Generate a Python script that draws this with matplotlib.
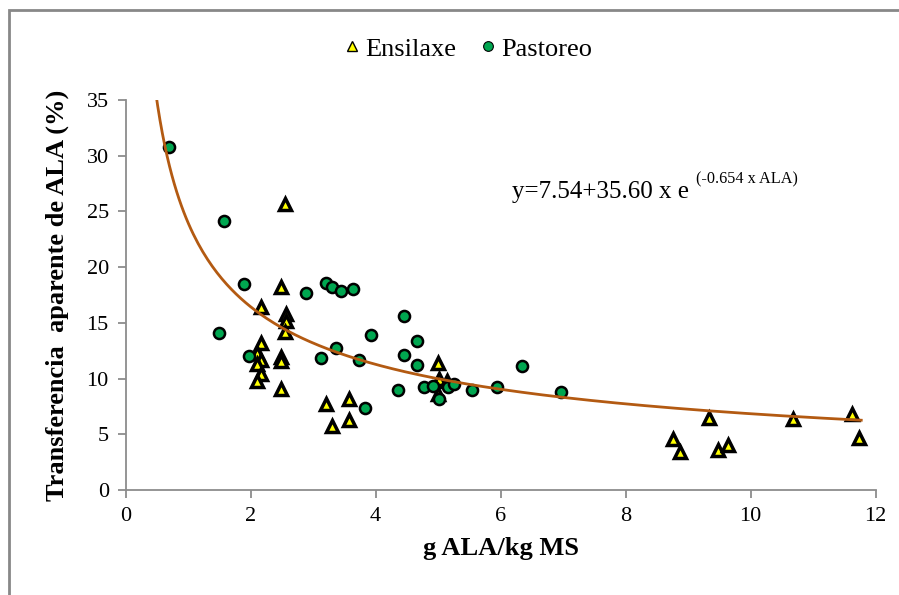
import numpy as np
import matplotlib
matplotlib.use("Agg")
import matplotlib.pyplot as plt
from matplotlib.lines import Line2D

plt.rcParams["font.family"] = ["Liberation Serif", "DejaVu Serif"]

# Ensilaxe (silage) points
ens_x = [2.55, 2.49, 2.17, 2.56, 2.56, 2.55, 2.17, 2.10, 2.17, 2.10, 2.17, 2.10,
         2.49, 2.49, 2.49, 3.21, 3.58, 3.31, 3.58, 5.00, 5.02, 5.15, 5.00,
         8.76, 8.87, 9.34, 9.48, 9.64, 10.68, 11.62, 11.74]
ens_y = [25.7, 18.2, 16.4, 15.8, 15.2, 14.2, 13.2, 12.3, 11.7, 11.3, 10.4, 9.8,
         11.9, 11.6, 9.1, 7.7, 8.2, 5.7, 6.3, 11.4, 10.0, 9.8, 8.6,
         4.6, 3.4, 6.5, 3.6, 4.0, 6.4, 6.8, 4.7]

# Pastoreo (grazing) points
pas_x = [0.69, 1.57, 1.89, 2.89, 3.21, 3.31, 3.45, 3.64, 1.50, 1.97, 3.12, 3.37,
         3.74, 3.93, 3.83, 4.36, 4.46, 4.46, 4.67, 4.67, 4.78, 4.92, 5.01, 5.16,
         5.25, 5.54, 5.95, 6.35, 6.97]
pas_y = [30.8, 24.1, 18.5, 17.7, 18.6, 18.2, 17.9, 18.0, 14.1, 12.0, 11.8, 12.7,
         11.7, 13.9, 7.4, 9.0, 15.6, 12.1, 13.4, 11.2, 9.2, 9.3, 8.2, 9.2,
         9.5, 9.0, 9.2, 11.1, 8.8]

# trend line as drawn (power fit)
fit_a = 24.0
fit_b = -0.545
fit_x = np.linspace(0.40, 11.77, 300)
fit_y = fit_a * fit_x ** fit_b

fig = plt.figure(figsize=(8.99, 5.95), dpi=100)
ax = fig.add_axes([0.1396, 0.1765, 0.8344, 0.6555])

ax.plot(ens_x, ens_y, linestyle="none", marker="^", markersize=9,
        markerfacecolor="#ffff00", markeredgecolor="black", markeredgewidth=2.5,
        zorder=3)
ax.plot(pas_x, pas_y, linestyle="none", marker="o", markersize=8,
        markerfacecolor="#00a650", markeredgecolor="black", markeredgewidth=1.8,
        zorder=4)
ax.plot(fit_x, fit_y, color="#b35a12", linewidth=2, zorder=5)

ax.set_xlim(0, 12)
ax.set_ylim(0, 35)
ax.set_xticks(range(0, 13, 2))
ax.set_yticks(range(0, 36, 5))

gray = "#8c8c8c"
for side in ["top", "right"]:
    ax.spines[side].set_visible(False)
for side in ["left", "bottom"]:
    ax.spines[side].set_color(gray)
    ax.spines[side].set_linewidth(1.3)
ax.tick_params(direction="out", length=6, width=1.3, color=gray,
               labelsize=16, labelcolor="black", pad=6)

ax.set_xlabel("g ALA/kg MS", fontsize=19, fontweight="bold", labelpad=8)
ax.set_ylabel("Transferencia  aparente de ALA (%)", fontsize=19,
              fontweight="bold", labelpad=13)

eq = ax.text(6.19, 26.7, "y=7.54+35.60 x e", fontsize=18, va="center", ha="left")
ax.annotate("(-0.654 x ALA)", xy=(1, 0.75), xycoords=eq, xytext=(5, 0),
            textcoords="offset points", fontsize=11.7, va="bottom", ha="left")

handles = [
    Line2D([], [], linestyle="none", marker="^", markersize=7,
           markerfacecolor="#ffff00", markeredgecolor="black", markeredgewidth=1),
    Line2D([], [], linestyle="none", marker="o", markersize=7,
           markerfacecolor="#00a650", markeredgecolor="black", markeredgewidth=0.8),
]
fig.legend(handles, ["Ensilaxe", "Pastoreo"], loc="center",
           bbox_to_anchor=(0.518, 0.918), ncol=2, frameon=False, fontsize=19,
           handletextpad=0.0, columnspacing=0.7, handlelength=1.0)

# chart border (only top and left edges are visible in the frame)
fig.add_artist(plt.Rectangle((9 / 899, -0.1), 2, 1.1 - 10 / 595,
                             transform=fig.transFigure, fill=False,
                             edgecolor="#888888", linewidth=2))

fig.savefig("out.png", dpi=100)
